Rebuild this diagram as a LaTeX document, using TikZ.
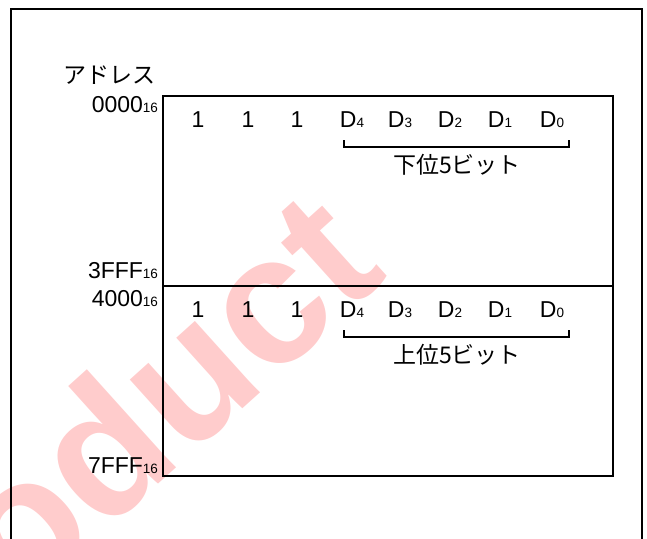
\documentclass[tikz,border=0pt]{standalone}
\usepackage{fontspec}
\setmainfont{Liberation Sans}
\newfontfamily\jpfont{Noto Sans CJK JP}
\newcommand{\sixteen}{{\fontsize{13.5}{14}\selectfont 16}}
\newcommand{\dsub}[1]{D{\fontsize{13.5}{14}\selectfont #1}}
\begin{document}
\begin{tikzpicture}[x=1pt,y=-1pt,
  every node/.style={inner sep=0pt,outer sep=0pt},
  lbl/.style={font=\fontsize{23}{24}\selectfont,anchor=base},
  addr/.style={font=\fontsize{23}{24}\selectfont,anchor=base east},
  jlbl/.style={font=\jpfont\fontsize{23}{24}\selectfont,anchor=center},
  boxline/.style={line width=1.4pt},
  frameline/.style={line width=2.4pt},
  brk/.style={line width=1.4pt}]
\clip (0,0) rectangle (647,538);
\useasboundingbox (0,0) rectangle (647,538);
% watermark
\node[rotate=42,anchor=base east,font=\fontsize{183}{183}\selectfont\bfseries,text=red,opacity=0.2] (wm) at (390,276) {Product};
% outer frame
\coordinate (fbl) at (11,560);
\coordinate (ftl) at (11,9);
\coordinate (ftr) at (642,9);
\coordinate (fbr) at (642,560);
\draw[frameline] (fbl) -- (ftl) -- (ftr) -- (fbr);
% memory box
\coordinate (btl) at (163,96);
\coordinate (bbr) at (613,476);
\coordinate (ml) at (163,286);
\coordinate (mr) at (613,286);
\draw[boxline] (btl) rectangle (bbr);
\draw[boxline] (ml) -- (mr);
% address labels
\node[jlbl] (title) at (109,75) {アドレス};
\node[addr] (a0) at (158,112) {0000\sixteen};
\node[addr] (a1) at (158,278) {3FFF\sixteen};
\node[addr] (a2) at (158,306) {4000\sixteen};
\node[addr] (a3) at (158,473) {7FFF\sixteen};
% bit rows
\foreach \r/\y in {1/127,2/317}{
  \node[lbl] (o1r\r) at (198,\y) {1};
  \node[lbl] (o2r\r) at (248,\y) {1};
  \node[lbl] (o3r\r) at (297,\y) {1};
  \node[lbl] (d4r\r) at (352,\y) {\dsub{4}};
  \node[lbl] (d3r\r) at (400,\y) {\dsub{3}};
  \node[lbl] (d2r\r) at (450,\y) {\dsub{2}};
  \node[lbl] (d1r\r) at (500,\y) {\dsub{1}};
  \node[lbl] (d0r\r) at (552,\y) {\dsub{0}};
}
% brackets
\coordinate (b1l) at (344,140);
\coordinate (b1r) at (569,140);
\draw[brk] (b1l) -- ++(0,7) -| (b1r);
\coordinate (b2l) at (344,330);
\coordinate (b2r) at (569,330);
\draw[brk] (b2l) -- ++(0,7) -| (b2r);
\node[jlbl] (lo) at (457,165) {下位5ビット};
\node[jlbl] (hi) at (457,355) {上位5ビット};
\end{tikzpicture}
\end{document}
